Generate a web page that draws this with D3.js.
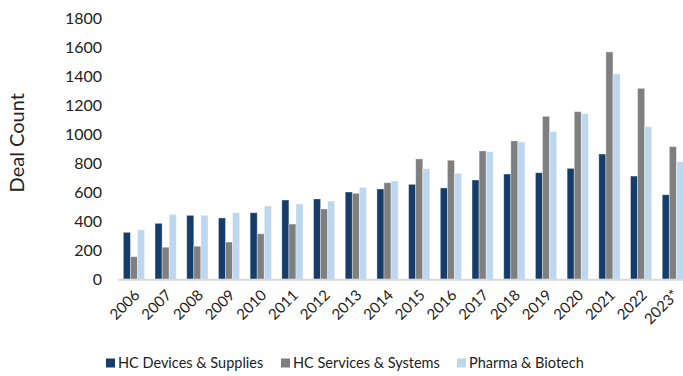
<!DOCTYPE html>
<html>
<head>
<meta charset="utf-8">
<script src="https://cdn.jsdelivr.net/npm/d3@7"></script>
<style>
  html, body { margin: 0; padding: 0; background: #fff; }
  svg { display: block; font-family: Lato, "Open Sans", sans-serif; }
</style>
</head>
<body>
<svg id="chart" width="683" height="376"></svg>
<script>
// Healthcare deal counts by sector, 2006–2023*
const years = ["2006","2007","2008","2009","2010","2011","2012","2013","2014",
               "2015","2016","2017","2018","2019","2020","2021","2022","2023*"];
const devices  = [324, 386, 441, 423, 459, 547, 554, 602, 623, 655, 630, 685, 726, 735, 765, 864, 712, 583];
const services = [156, 221, 228, 257, 314, 381, 485, 593, 666, 830, 821, 885, 954, 1124, 1156, 1568, 1317, 915];
const pharma   = [342, 448, 441, 459, 505, 519, 540, 634, 678, 763, 731, 880, 947, 1018, 1142, 1416, 1052, 811];
const seriesNames = ["HC Devices & Supplies", "HC Services & Systems", "Pharma & Biotech"];
const seriesColors = ["#163d69", "#7f7f7f", "#bdd7ee"];
const yTicks = [0, 200, 400, 600, 800, 1000, 1200, 1400, 1600, 1800];

const seriesValues = [devices, services, pharma];
const rows = years.map((yr, i) => ({ year: yr, values: seriesValues.map(s => s[i]) }));

const svg = d3.select("#chart");
const plotLeft = 118.1, plotRight = 688.7, plotTop = 18.3, plotBottom = 279.3;

const x0 = d3.scaleBand().domain(years).range([plotLeft, plotRight])
  .paddingInner(0.33).paddingOuter(0.165);
const x1 = d3.scaleBand().domain(d3.range(3)).range([0, x0.bandwidth()]);
const y = d3.scaleLinear().domain([0, 1800]).range([plotBottom, plotTop]);

// y axis labels (no axis line, no ticks)
const yAxis = svg.append("g")
  .attr("transform", `translate(${plotLeft - 16},0)`)
  .call(d3.axisLeft(y).tickValues(yTicks).tickFormat(d3.format("d")).tickSize(0).tickPadding(0));
yAxis.select(".domain").remove();
yAxis.selectAll("text")
  .attr("font-family", "Lato, sans-serif")
  .attr("font-size", 16)
  .attr("fill", "#222");

// y axis title
svg.append("text")
  .attr("transform", `translate(24,${(plotTop + plotBottom) / 2 - 6}) rotate(-90)`)
  .attr("text-anchor", "middle")
  .attr("font-size", 20)
  .attr("fill", "#222")
  .text("Deal Count");

// grouped bars
const groups = svg.append("g").selectAll("g")
  .data(rows).join("g")
  .attr("transform", d => `translate(${x0(d.year)},0)`);

groups.selectAll("rect")
  .data(d => d.values.map((v, k) => ({ v, k })))
  .join("rect")
  .attr("x", d => x1(d.k))
  .attr("width", x1.bandwidth())
  .attr("y", d => y(d.v))
  .attr("height", d => y(0) - y(d.v))
  .attr("fill", d => seriesColors[d.k])
  .attr("stroke", "#ffffff")
  .attr("stroke-opacity", 0.45)
  .attr("stroke-width", 0.8);

// baseline
svg.append("line")
  .attr("x1", plotLeft).attr("x2", 683)
  .attr("y1", plotBottom + 0.5).attr("y2", plotBottom + 0.5)
  .attr("stroke", "#d9d9d9")
  .attr("stroke-width", 2);

// x axis labels, rotated
const xAxis = svg.append("g")
  .attr("transform", `translate(0,${plotBottom + 9})`)
  .call(d3.axisBottom(x0).tickSize(0).tickPadding(0));
xAxis.select(".domain").remove();
xAxis.selectAll("text")
  .attr("font-family", "Lato, sans-serif")
  .attr("font-size", 15)
  .attr("fill", "#222")
  .attr("text-anchor", "end")
  .attr("dy", "0.35em")
  .attr("transform", "translate(3,4) rotate(-45)");

// legend
const legendItems = [
  { x: 106, name: seriesNames[0], color: seriesColors[0] },
  { x: 281, name: seriesNames[1], color: seriesColors[1] },
  { x: 457, name: seriesNames[2], color: seriesColors[2] }
];
const legend = svg.append("g").selectAll("g")
  .data(legendItems).join("g")
  .attr("transform", d => `translate(${d.x},363)`);
legend.append("rect")
  .attr("x", 0).attr("y", -4.5)
  .attr("width", 9).attr("height", 9)
  .attr("fill", d => d.color);
legend.append("text")
  .attr("x", 12).attr("y", 0)
  .attr("dy", "0.35em")
  .attr("font-size", 14.5)
  .attr("fill", "#222")
  .text(d => d.name);
</script>
</body>
</html>
